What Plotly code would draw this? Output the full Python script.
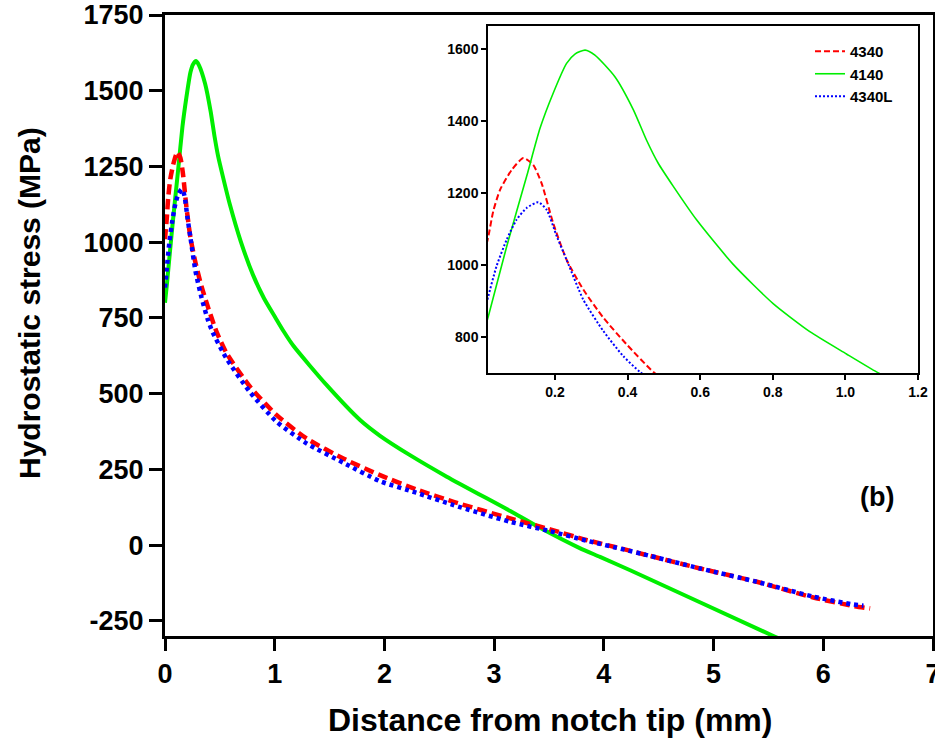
import plotly.graph_objects as go

# 4340 (red dashed)
x_4340 = [0.0, 0.0165, 0.03, 0.049, 0.081, 0.113, 0.14, 0.163, 0.195, 0.232, 0.278, 0.333,
          0.397, 0.471, 0.562, 0.775, 1.018, 1.29, 1.625, 1.96, 2.29, 2.63, 3.146, 3.51,
          3.84, 4.19, 4.36, 4.877, 5.394, 5.91, 6.275, 6.427]
y_4340 = [1010, 1080, 1150, 1210, 1265, 1298, 1279, 1228, 1117, 1015, 932, 854,
          780, 703, 633, 523, 429, 352, 286, 231, 184, 143, 88, 52,
          17, -14, -30, -77, -121, -173, -201, -209]

# 4140 (green solid)
x_4140 = [0.0, 0.0165, 0.067, 0.122, 0.159, 0.195, 0.232, 0.255, 0.283, 0.31, 0.365, 0.416,
          0.452, 0.484, 0.526, 0.59, 0.691, 0.801, 0.902, 1.003, 1.081, 1.17, 1.474, 1.778,
          1.96, 2.233, 2.568, 3.175, 3.418, 3.78, 3.965, 4.24, 5.545, 5.6]
y_4140 = [800, 858, 1052, 1247, 1381, 1478, 1561, 1587, 1598, 1584, 1524, 1432,
          1348, 1284, 1219, 1126, 1002, 893, 815, 753, 706, 658, 528, 413,
          361, 297, 226, 107, 57, -10, -39, -83, -300, -309]

# 4340L (blue dotted)
x_4340L = [0.0, 0.0165, 0.039, 0.067, 0.094, 0.122, 0.154, 0.177, 0.205, 0.232, 0.278, 0.333,
           0.388, 0.434, 0.562, 0.775, 1.018, 1.29, 1.625, 1.96, 2.29, 2.63, 3.146, 3.51,
           3.84, 4.19, 4.36, 4.877, 5.394, 5.91, 6.275, 6.366]
y_4340L = [850, 914, 997, 1071, 1126, 1159, 1175, 1154, 1080, 1015, 904, 817,
           747, 703, 615, 505, 407, 336, 272, 211, 173, 132, 77, 46,
           15, -15, -30, -77, -121, -170, -196, -200]

main_yticks = [-250, 0, 250, 500, 750, 1000, 1250, 1500, 1750]
main_yticklabels = ["-250", "0", "250", "500", "750", "1000", "1250", "1500", "1750"]
main_xticks = [0, 1, 2, 3, 4, 5, 6, 7]
inset_yticks = [800, 1000, 1200, 1400, 1600]
inset_xticks = [0.2, 0.4, 0.6, 0.8, 1.0, 1.2]
inset_xticklabels = ["0.2", "0.4", "0.6", "0.8", "1.0", "1.2"]

RED = "#ff0000"
GREEN = "#00ee00"
BLUE = "#0000ff"
FONT = "Liberation Sans"

fig = go.Figure()

# main traces
fig.add_trace(go.Scatter(x=x_4140, y=y_4140, mode="lines",
                         line=dict(color=GREEN, width=4, shape="spline", smoothing=0.6),
                         showlegend=False, xaxis="x", yaxis="y"))
fig.add_trace(go.Scatter(x=x_4340, y=y_4340, mode="lines",
                         line=dict(color=RED, width=4.5, dash="10px,5px", shape="spline", smoothing=0.6),
                         showlegend=False, xaxis="x", yaxis="y"))
fig.add_trace(go.Scatter(x=x_4340L, y=y_4340L, mode="lines",
                         line=dict(color=BLUE, width=4.5, dash="4px,4px", shape="spline", smoothing=0.6),
                         showlegend=False, xaxis="x", yaxis="y"))

# inset traces
fig.add_trace(go.Scatter(x=x_4340, y=y_4340, mode="lines", name="4340",
                         line=dict(color=RED, width=2, dash="6px,3px", shape="spline", smoothing=0.6),
                         xaxis="x2", yaxis="y2"))
fig.add_trace(go.Scatter(x=x_4140, y=y_4140, mode="lines", name="4140",
                         line=dict(color=GREEN, width=1.6, shape="spline", smoothing=0.6),
                         xaxis="x2", yaxis="y2"))
fig.add_trace(go.Scatter(x=x_4340L, y=y_4340L, mode="lines", name="4340L",
                         line=dict(color=BLUE, width=2, dash="2px,2px", shape="spline", smoothing=0.6),
                         xaxis="x2", yaxis="y2"))

W, H = 935, 742

fig.update_layout(
    width=W, height=H,
    margin=dict(l=0, r=0, t=0, b=0, autoexpand=False),
    paper_bgcolor="white", plot_bgcolor="white",
    font=dict(family=FONT, color="black"),
    xaxis=dict(domain=[165 / W, 933 / W], range=[0, 7], tickvals=main_xticks,
               showgrid=False, zeroline=False, showline=True, linecolor="black", linewidth=3,
               mirror=True, ticks="outside", ticklen=12, tickwidth=3, tickcolor="black",
               tickfont=dict(family=FONT, size=27, weight="bold", color="black"),
               ticklabeloverflow="allow",
               anchor="y", automargin=False),
    yaxis=dict(domain=[1 - 636 / H, 1 - 15 / H], range=[-300, 1750], tickvals=main_yticks,
               ticktext=main_yticklabels,
               showgrid=False, zeroline=False, showline=True, linecolor="black", linewidth=3,
               mirror=True, ticks="outside", ticklen=13, tickwidth=3, tickcolor="black",
               tickfont=dict(family=FONT, size=27, weight="bold", color="black"),
               ticklabeloverflow="allow",
               anchor="x", automargin=False),
    xaxis2=dict(domain=[488 / W, 918 / W], range=[0.0155, 1.2], tickvals=inset_xticks,
                ticktext=inset_xticklabels,
                showgrid=False, zeroline=False, showline=True, linecolor="black", linewidth=1.5,
                mirror=True, ticks="outside", ticklen=5, tickwidth=1.5, tickcolor="black",
                tickfont=dict(family=FONT, size=14, weight="bold", color="black"),
                ticklabeloverflow="allow",
                anchor="y2", automargin=False),
    yaxis2=dict(domain=[1 - 373 / H, 1 - 26 / H], range=[700, 1665], tickvals=inset_yticks,
                showgrid=False, zeroline=False, showline=True, linecolor="black", linewidth=1.5,
                mirror=True, ticks="outside", ticklen=5, tickwidth=1.5, tickcolor="black",
                tickfont=dict(family=FONT, size=14, weight="bold", color="black"),
                ticklabeloverflow="allow",
                anchor="x2", automargin=False),
    legend=dict(x=810 / W, y=1 - 35 / H, xanchor="left", yanchor="top",
                bgcolor="rgba(0,0,0,0)", borderwidth=0,
                font=dict(family=FONT, size=15, weight="bold", color="black"),
                tracegroupgap=0, itemwidth=30),
    annotations=[
        dict(text="Hydrostatic stress (MPa)", x=30 / W, y=1 - 303 / H, xref="paper", yref="paper",
             showarrow=False, textangle=-90, xanchor="center", yanchor="middle",
             font=dict(family=FONT, size=30, weight="bold", color="black")),
        dict(text="Distance from notch tip (mm)", x=550 / W, y=1 - 720 / H, xref="paper",
             yref="paper", showarrow=False, xanchor="center", yanchor="middle",
             font=dict(family=FONT, size=32, weight="bold", color="black")),
        dict(text="(b)", x=877 / W, y=1 - 497 / H, xref="paper", yref="paper",
             showarrow=False, xanchor="center", yanchor="middle",
             font=dict(family=FONT, size=27, weight="bold", color="black")),
    ],
)

fig.write_html("out.html")
